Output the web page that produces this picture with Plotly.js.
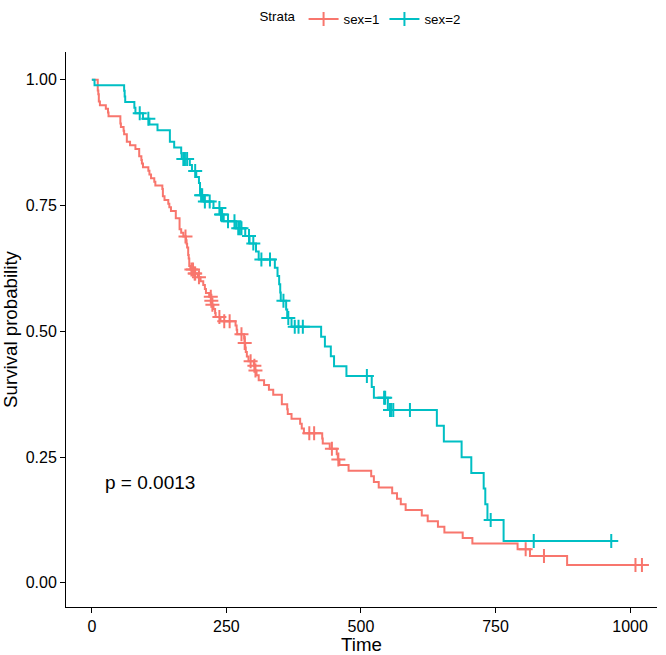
<!DOCTYPE html>
<html>
<head>
<meta charset="utf-8">
<script src="https://cdn.plot.ly/plotly-3.0.1.min.js"></script>
<style>html,body{margin:0;padding:0;background:#fff;}#chart{width:666px;height:655px;}</style>
</head>
<body>
<div id="chart"></div>
<script>
// Kaplan-Meier step data, sex = 1
var timeSex1 = [0, 11, 12, 13, 15, 26, 30, 31, 53, 54, 59, 60, 65, 71, 81, 88, 92, 93, 95, 105, 107, 110, 116, 118, 131, 132, 135, 142, 144, 147, 156, 163, 166, 170, 175, 176, 177, 179, 180, 181, 183, 189, 197, 202, 207, 210, 212, 218, 222, 223, 226, 229, 230, 239, 267, 269, 270, 283, 284, 285, 286, 288, 291, 301, 303, 306, 310, 320, 329, 337, 353, 363, 364, 371, 387, 390, 394, 428, 429, 442, 455, 457, 460, 477, 519, 524, 533, 558, 567, 574, 583, 613, 624, 643, 655, 689, 707, 791, 814, 883, 1022];
var survSex1 = [1, 0.9783, 0.9710, 0.9565, 0.9493, 0.9420, 0.9348, 0.9275, 0.9130, 0.9058, 0.8986, 0.8913, 0.8768, 0.8696, 0.8623, 0.8478, 0.8406, 0.8333, 0.8261, 0.8188, 0.8116, 0.8043, 0.7971, 0.7899, 0.7826, 0.7681, 0.7609, 0.7536, 0.7464, 0.7391, 0.7246, 0.7029, 0.6957, 0.6884, 0.6811, 0.6738, 0.6664, 0.6518, 0.6445, 0.6298, 0.6225, 0.6150, 0.6073, 0.5995, 0.5917, 0.5839, 0.5762, 0.5684, 0.5605, 0.5525, 0.5444, 0.5362, 0.5281, 0.5198, 0.5113, 0.5028, 0.4942, 0.4854, 0.4766, 0.4676, 0.4586, 0.4496, 0.4406, 0.4314, 0.4220, 0.4124, 0.4028, 0.3932, 0.3836, 0.3740, 0.3548, 0.3452, 0.3356, 0.3260, 0.3164, 0.3068, 0.2972, 0.2870, 0.2767, 0.2665, 0.2558, 0.2451, 0.2340, 0.2229, 0.2118, 0.2006, 0.1895, 0.1783, 0.1672, 0.1560, 0.1449, 0.1337, 0.1226, 0.1114, 0.1003, 0.0891, 0.0780, 0.0669, 0.0535, 0.0357, 0.0357];
var censorSex1 = [174, 185, 188, 191, 192, 199, 221, 222, 224, 237, 246, 256, 278, 284, 295, 302, 304, 404, 413, 446, 458, 806, 840, 1010, 1022];

// Kaplan-Meier step data, sex = 2
var timeSex2 = [0, 5, 60, 61, 62, 79, 81, 95, 107, 122, 145, 153, 166, 167, 182, 186, 194, 199, 201, 208, 226, 239, 245, 268, 285, 293, 305, 310, 340, 345, 348, 350, 351, 361, 363, 371, 426, 433, 444, 450, 473, 520, 524, 550, 641, 654, 687, 705, 728, 731, 735, 765, 965];
var survSex2 = [1, 0.9889, 0.9778, 0.9667, 0.9556, 0.9444, 0.9333, 0.9221, 0.9107, 0.8993, 0.8766, 0.8652, 0.8538, 0.8424, 0.8305, 0.8187, 0.8066, 0.7946, 0.7705, 0.7581, 0.7452, 0.7322, 0.7186, 0.7045, 0.6895, 0.6742, 0.6585, 0.6428, 0.6264, 0.6099, 0.5934, 0.5769, 0.5604, 0.5434, 0.5265, 0.5089, 0.4893, 0.4697, 0.4501, 0.4306, 0.4110, 0.3894, 0.3678, 0.3433, 0.3121, 0.2809, 0.2497, 0.2185, 0.1873, 0.1561, 0.1249, 0.0832, 0.0832];
var censorSex2 = [89, 105, 170, 173, 177, 192, 203, 205, 210, 219, 237, 240, 242, 253, 265, 272, 275, 278, 292, 300, 315, 331, 356, 365, 377, 384, 392, 511, 543, 545, 554, 556, 560, 591, 741, 821, 965];

var strataLabels = ["sex=1", "sex=2"];
var xTicks = [0, 250, 500, 750, 1000];
var yTicks = [0, 0.25, 0.5, 0.75, 1];
var yTickText = ["0.00", "0.25", "0.50", "0.75", "1.00"];
var pValueText = "p = 0.0013";

var colors = ["#F8766D", "#00BFC4"];

function stepValue(times, surv, t) {
  var v = surv[0];
  for (var i = 0; i < times.length; i++) { if (times[i] <= t) v = surv[i]; }
  return v;
}

var groups = [
  {t: timeSex1, s: survSex1, c: censorSex1},
  {t: timeSex2, s: survSex2, c: censorSex2}
];

var traces = [];
groups.forEach(function (g, k) {
  traces.push({
    x: g.t, y: g.s, type: "scatter", mode: "lines",
    line: {shape: "hv", color: colors[k], width: 2},
    showlegend: false, hoverinfo: "skip"
  });
  traces.push({
    x: g.c, y: g.c.map(function (t) { return stepValue(g.t, g.s, t); }),
    type: "scatter", mode: "markers",
    marker: {symbol: "cross-thin", size: 10, color: colors[k], line: {width: 2, color: colors[k]}},
    showlegend: false, hoverinfo: "skip"
  });
});
strataLabels.forEach(function (lab, k) {
  traces.push({
    x: [null], y: [null], type: "scatter", mode: "lines+markers", name: lab,
    line: {color: colors[k], width: 2},
    marker: {symbol: "cross-thin", size: 10, color: colors[k], line: {width: 2, color: colors[k]}}
  });
});

var fontFam = "Liberation Sans, Arial, sans-serif";
var layout = {
  width: 666, height: 655,
  margin: {l: 66, r: 9, t: 52, b: 48, autoexpand: false},
  paper_bgcolor: "#ffffff", plot_bgcolor: "#ffffff",
  font: {family: fontFam, color: "#000000"},
  showlegend: true,
  legend: {
    orientation: "h", x: 0.5, xanchor: "center", y: 1.059, yanchor: "middle",
    font: {size: 13.3, color: "#000000"},
    title: {text: "Strata", side: "left", font: {size: 13.3}},
    itemwidth: 30, traceorder: "normal"
  },
  xaxis: {
    range: [-48, 1050], tickvals: xTicks, ticktext: xTicks.map(String),
    showgrid: false, zeroline: false, showline: true, linecolor: "#000000", linewidth: 1,
    ticks: "outside", ticklen: 5, tickcolor: "#000000", tickwidth: 1,
    tickfont: {size: 16, color: "#000000"}, automargin: false,
    title: {text: "Time", font: {size: 18.7, color: "#000000"}, standoff: 4}
  },
  yaxis: {
    range: [-0.048, 1.055], tickvals: yTicks, ticktext: yTickText,
    showgrid: false, zeroline: false, showline: true, linecolor: "#000000", linewidth: 1,
    ticks: "outside", ticklen: 5, tickcolor: "#000000", tickwidth: 1,
    tickfont: {size: 16, color: "#000000"}, automargin: false,
    title: {text: "Survival probability", font: {size: 18.7, color: "#000000"}, standoff: 6}
  },
  annotations: [{
    x: 20, y: 0.2, xref: "x", yref: "y", text: pValueText, showarrow: false,
    xanchor: "left", yanchor: "middle", font: {size: 19, color: "#000000"}
  }]
};

Plotly.newPlot("chart", traces, layout, {staticPlot: true, displayModeBar: false});
</script>
</body>
</html>
